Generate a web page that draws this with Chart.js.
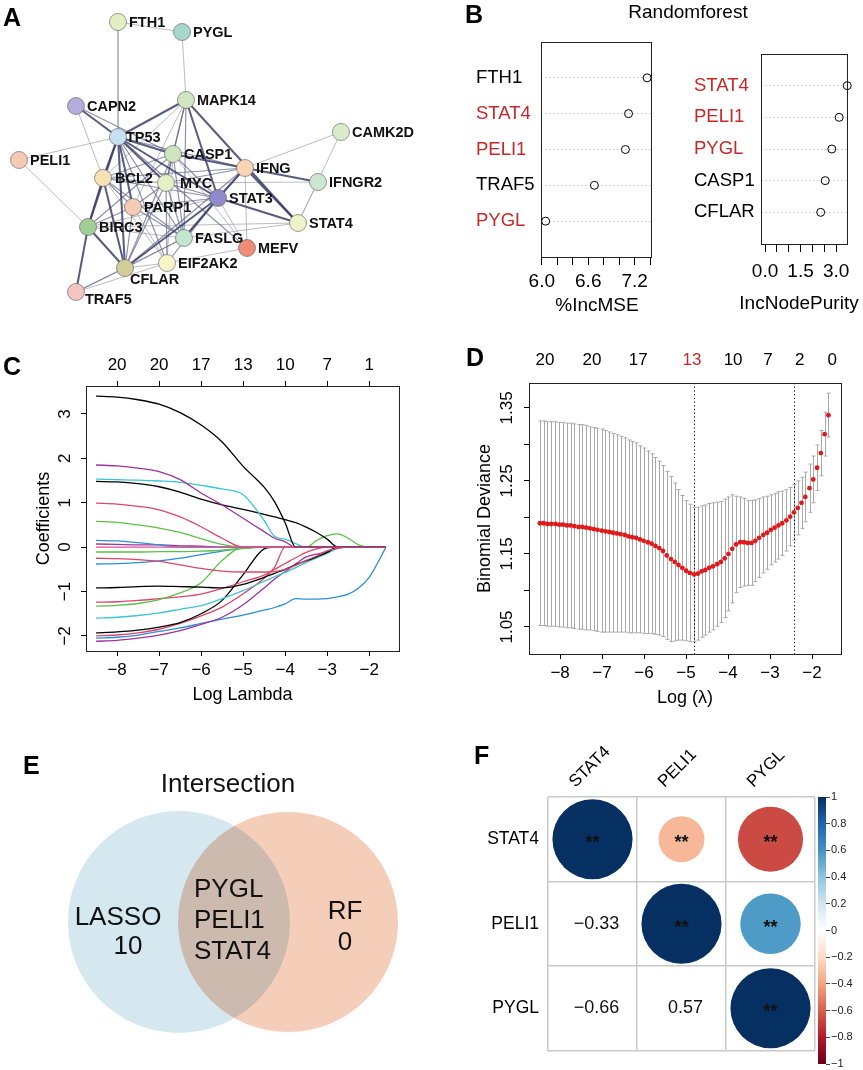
<!DOCTYPE html>
<html>
<head>
<meta charset="utf-8">
<script src="https://cdn.jsdelivr.net/npm/chart.js@4.4.1/dist/chart.umd.min.js"></script>
<style>
  html, body { margin: 0; padding: 0; background: #fff; }
  #fig { position: relative; width: 863px; height: 1070px; overflow: hidden; font-family: "Liberation Sans", Arial, sans-serif; color: #000; }
  #fig canvas { position: absolute; }
  .tag { position: absolute; font-weight: bold; font-size: 25px; line-height: 25px; }
  .txt { position: absolute; white-space: nowrap; text-align: center; font-size: 19px; line-height: 22px; }
</style>
</head>
<body>
<div id="fig">
  <canvas id="net" width="440" height="310" style="left:0;top:0"></canvas>
  <canvas id="rfMse" width="225" height="320" style="left:440px;top:0"></canvas>
  <canvas id="rfPurity" width="198" height="320" style="left:665px;top:0"></canvas>
  <canvas id="coef" width="430" height="380" style="left:0;top:340px"></canvas>
  <canvas id="cv" width="433" height="380" style="left:430px;top:340px"></canvas>
  <canvas id="venn" width="440" height="330" style="left:0;top:740px"></canvas>
  <canvas id="corr" width="423" height="330" style="left:440px;top:740px"></canvas>
  <canvas id="corrBar" width="58" height="300" style="left:805px;top:780px"></canvas>

  <div class="tag" style="left:3px;top:5px">A</div>
  <div class="tag" style="left:465px;top:2px">B</div>
  <div class="tag" style="left:3px;top:354px">C</div>
  <div class="tag" style="left:466px;top:345px">D</div>
  <div class="tag" style="left:23px;top:753px">E</div>
  <div class="tag" style="left:474px;top:743px">F</div>
  <div class="txt" style="left:588px;top:1px;width:200px">Randomforest</div>
  <div class="txt" style="left:537px;top:294px;width:120px">%IncMSE</div>
  <div class="txt" style="left:729px;top:292px;width:140px">IncNodePurity</div>
</div>

<script>
// ---- A: PPI network ----
const netGenes = ['FTH1','PYGL','CAPN2','MAPK14','TP53','CAMK2D','PELI1','CASP1','IFNG','IFNGR2','BCL2',
  'MYC','STAT3','PARP1','STAT4','BIRC3','FASLG','MEFV','EIF2AK2','CFLAR','TRAF5'];
const netX = [118,182,76,186,118,341,19,173,245,318,103,166,218,133,298,88,184,247,167,125,76];
const netY = [22,32,106,100,137,132,160,154,168,182,178,183,198,207,223,227,238,248,263,268,292];
const netColors = ['#e3efc2','#a9d6cc','#b6acdc','#cfe6bf','#c5e0f3','#d9ebc8','#f6c9b7','#cde6c0','#f9d4b6',
  '#cbe7d0','#f7e1b5','#e4efc4','#9189cc','#f5cbb5','#eef3c8','#a2cf95','#c3e6cf','#ef8d76','#f7f4c8','#d2cd99','#f5c3c2'];
// edge: [from, to, strength d/m/l]
const netEdges = [
  ['FTH1','PYGL','l'],['FTH1','TP53','l'],['PYGL','MAPK14','l'],['CAPN2','TP53','d'],['CAPN2','CASP1','m'],
  ['CAPN2','BCL2','l'],['PELI1','TP53','l'],['PELI1','BIRC3','l'],['MAPK14','TP53','d'],['MAPK14','CASP1','m'],
  ['MAPK14','MYC','m'],['MAPK14','BCL2','l'],['MAPK14','STAT3','d'],['MAPK14','STAT4','d'],['MAPK14','FASLG','m'],
  ['MAPK14','PARP1','l'],['TP53','CASP1','d'],['TP53','BCL2','d'],['TP53','MYC','d'],['TP53','STAT3','d'],
  ['TP53','BIRC3','d'],['TP53','CFLAR','d'],['TP53','PARP1','d'],['TP53','FASLG','m'],['TP53','IFNG','m'],
  ['TP53','MEFV','m'],['TP53','EIF2AK2','m'],['CASP1','IFNG','d'],['CASP1','MYC','m'],['CASP1','CFLAR','m'],
  ['CASP1','BIRC3','m'],['CASP1','BCL2','m'],['CASP1','STAT3','m'],['CASP1','MEFV','l'],['CASP1','FASLG','m'],
  ['CASP1','EIF2AK2','l'],['CAMK2D','IFNG','l'],['CAMK2D','STAT4','l'],['IFNG','IFNGR2','d'],['IFNG','STAT3','d'],
  ['IFNG','STAT4','d'],['IFNG','MEFV','l'],['IFNG','BCL2','m'],['IFNG','MYC','m'],['IFNG','FASLG','m'],
  ['IFNG','CFLAR','m'],['IFNGR2','STAT4','l'],['IFNGR2','MYC','l'],['BCL2','MYC','m'],['BCL2','STAT3','m'],
  ['BCL2','BIRC3','d'],['BCL2','CFLAR','d'],['BCL2','FASLG','m'],['BCL2','PARP1','m'],['BCL2','EIF2AK2','l'],
  ['MYC','STAT3','m'],['MYC','PARP1','m'],['MYC','FASLG','m'],['MYC','CFLAR','m'],['MYC','EIF2AK2','m'],
  ['STAT3','STAT4','d'],['STAT3','FASLG','d'],['STAT3','CFLAR','d'],['STAT3','BIRC3','l'],['STAT3','PARP1','m'],
  ['STAT3','EIF2AK2','m'],['STAT3','MEFV','l'],['PARP1','CFLAR','m'],['PARP1','BIRC3','m'],['PARP1','FASLG','m'],
  ['PARP1','EIF2AK2','l'],['BIRC3','CFLAR','d'],['BIRC3','TRAF5','d'],['BIRC3','FASLG','l'],['BIRC3','STAT4','l'],
  ['CFLAR','TRAF5','m'],['CFLAR','FASLG','m'],['CFLAR','EIF2AK2','l'],['TRAF5','EIF2AK2','l'],['TRAF5','FASLG','l'],
  ['MEFV','EIF2AK2','l'],['FASLG','STAT4','l']
];

// ---- B: random forest importance ----
const rfMseGenes = ['FTH1','STAT4','PELI1','TRAF5','PYGL'];
const rfMseValues = [7.36, 7.12, 7.08, 6.68, 6.05];
const rfMseTicks = [6.0, 6.2, 6.4, 6.6, 6.8, 7.0, 7.2, 7.4];
const rfMseTickLabels = ['6.0','','','6.6','','','7.2',''];
const rfPurityGenes = ['STAT4','PELI1','PYGL','CASP1','CFLAR'];
const rfPurityValues = [3.47, 3.13, 2.82, 2.54, 2.35];
const rfPurityTicks = [0, 0.5, 1, 1.5, 2, 2.5, 3];
const rfPurityTickLabels = ['0.0','','','1.5','','','3.0'];
const hubGenes = ['STAT4','PELI1','PYGL'];

// ---- C: LASSO coefficient paths ----
const lassoLogLambda = [-8.5,-8,-7.5,-7,-6.5,-6,-5.5,-5,-4.5,-4.25,-4,-3.75,-3.5,-3.25,-3,-2.75,-2.5,-2.25,-2,-1.6];
const coefPaths = [
  [3.40,3.38,3.32,3.22,3.03,2.75,2.37,1.82,1.35,1.02,0.55,0,0,0,0,0,0,0,0,0],
  [1.85,1.83,1.78,1.70,1.52,1.22,0.95,0.65,0.35,0.20,0.12,0,0,0,0,0,0,0,0,0],
  [1.53,1.52,1.51,1.49,1.46,1.39,1.31,1.18,0.60,0.24,0.18,0.08,0,0,0,0,0,0,0,0],
  [1.48,1.47,1.43,1.36,1.24,1.08,0.95,0.85,0.74,0.68,0.62,0.55,0.45,0.33,0.18,0,0,0,0,0],
  [0.99,0.97,0.92,0.84,0.68,0.46,0.20,0,0,0,0,0,0,0,0,0,0,0,0,0],
  [0.58,0.56,0.50,0.43,0.33,0.19,0.06,0,0,0,0,0,0,0,0,0,0,0,0,0],
  [0.15,0.14,0.10,0.05,0,0,0,0,0,0,0,0,0,0,0,0,0,0,0,0],
  [0.07,0.06,0.05,0.05,0.03,0.02,0,0,0,0,0,0,0,0,0,0,0,0,0,0],
  [-0.11,-0.11,-0.11,-0.10,-0.10,-0.09,-0.07,-0.03,0,0,0,0,0,0.15,0.26,0.30,0.20,0.05,0,0],
  [-0.25,-0.26,-0.28,-0.32,-0.40,-0.48,-0.54,-0.56,-0.56,-0.55,-0.50,-0.41,-0.30,-0.20,-0.08,-0.03,0,0,0,0],
  [-0.38,-0.37,-0.35,-0.31,-0.25,-0.17,-0.09,-0.03,0,0,0,0,0,0,0,0,0,0,0,0],
  [-0.92,-0.91,-0.89,-0.88,-0.89,-0.90,-0.92,-0.84,-0.68,-0.59,-0.50,-0.40,-0.31,-0.22,-0.12,0,0,0,0,0],
  [-1.33,-1.31,-1.27,-1.18,-1.03,-0.80,-0.30,0,0,0,0,0,0,0,0,0,0,0,0,0],
  [-1.24,-1.23,-1.20,-1.16,-1.12,-1.06,-0.93,-0.78,-0.63,-0.50,-0.37,-0.24,-0.12,-0.04,0,0,0,0,0,0],
  [-1.60,-1.58,-1.54,-1.48,-1.40,-1.32,-1.16,-0.98,-0.77,-0.67,-0.57,-0.46,-0.35,-0.24,-0.14,-0.03,0,0,0,0],
  [-1.93,-1.91,-1.87,-1.80,-1.70,-1.50,-1.20,-0.62,-0.04,0,0,0,0,0,0,0,0,0,0,0],
  [-2.00,-1.98,-1.93,-1.85,-1.72,-1.55,-1.35,-1.05,-0.70,-0.45,0,0,0,0,0,0,0,0,0,0],
  [-2.12,-2.10,-2.05,-1.98,-1.88,-1.74,-1.58,-1.30,-0.92,-0.72,-0.55,-0.38,-0.22,-0.16,-0.10,0,0,0,0,0],
  [-2.05,-2.03,-1.98,-1.90,-1.82,-1.72,-1.62,-1.53,-1.42,-1.36,-1.28,-1.16,-1.17,-1.17,-1.16,-1.12,-1.06,-0.92,-0.68,0],
  [0,0,0,0,0,0,0,0,0,0,0,0,0,0,0,0,0,0,0,0]
];
const pathColors = ['#000000','#a0329e','#3cc6d4','#000000','#d9476a','#5cbf4a','#2b8fd6','#a0329e','#5cbf4a','#d9476a',
  '#2b8fd6','#000000','#5cbf4a','#d9476a','#3cc6d4','#000000','#d9476a','#a0329e','#2b8fd6','#e0508f'];
const coefTicksX = [-8,-7,-6,-5,-4,-3,-2];
const coefTopLabels = ['20','20','17','13','10','7','1'];
const coefTicksY = [-2,-1,0,1,2,3];

// ---- D: cross-validation ----
const cvLogLambda = [-8.48,-8.39,-8.30,-8.21,-8.11,-8.02,-7.93,-7.84,-7.75,-7.66,
  -7.56,-7.47,-7.38,-7.29,-7.20,-7.11,-7.01,-6.92,-6.83,-6.74,
  -6.65,-6.56,-6.46,-6.37,-6.28,-6.19,-6.10,-6.01,-5.91,-5.82,
  -5.73,-5.64,-5.55,-5.46,-5.36,-5.27,-5.18,-5.09,-5.00,-4.91,
  -4.81,-4.72,-4.63,-4.54,-4.45,-4.36,-4.26,-4.17,-4.08,-3.99,
  -3.90,-3.81,-3.71,-3.62,-3.53,-3.44,-3.35,-3.26,-3.16,-3.07,
  -2.98,-2.89,-2.80,-2.71,-2.61,-2.52,-2.43,-2.34,-2.25,-2.16,
  -2.06,-1.97,-1.88,-1.79,-1.70,-1.61];
const cvMean = [1.192,1.192,1.191,1.191,1.191,1.190,1.190,1.189,1.189,1.188,
  1.187,1.187,1.186,1.185,1.184,1.183,1.182,1.181,1.180,1.179,
  1.178,1.177,1.176,1.174,1.173,1.172,1.170,1.168,1.166,1.164,
  1.161,1.158,1.154,1.148,1.143,1.139,1.135,1.131,1.127,1.124,
  1.122,1.123,1.126,1.128,1.131,1.133,1.136,1.139,1.144,1.150,
  1.157,1.163,1.166,1.166,1.165,1.165,1.168,1.172,1.176,1.179,
  1.183,1.186,1.189,1.192,1.196,1.201,1.207,1.213,1.220,1.228,
  1.240,1.252,1.268,1.288,1.314,1.340];
const cvSd = [0.140,0.140,0.140,0.140,0.140,0.140,0.140,0.140,0.140,0.140,
  0.140,0.140,0.140,0.139,0.139,0.139,0.139,0.138,0.137,0.136,
  0.135,0.134,0.133,0.132,0.131,0.130,0.128,0.127,0.125,0.123,
  0.121,0.119,0.117,0.115,0.113,0.108,0.103,0.099,0.096,0.094,
  0.092,0.091,0.090,0.089,0.088,0.087,0.085,0.083,0.081,0.078,
  0.074,0.066,0.062,0.060,0.058,0.058,0.056,0.054,0.052,0.050,
  0.048,0.047,0.046,0.044,0.042,0.040,0.038,0.037,0.035,0.034,
  0.033,0.032,0.031,0.031,0.030,0.030];
const cvLambdaMin = -4.81;
const cvLambda1se = -2.43;
const cvTicksX = [-8,-7,-6,-5,-4,-3,-2];
const cvTopAt = [-8.36,-7.24,-6.14,-4.86,-3.88,-3.05,-2.29,-1.52];
const cvTopLabels = ['20','20','17','13','10','7','2','0'];
const cvTicksY = [1.05,1.10,1.15,1.20,1.25,1.30,1.35];
const cvTickLabelsY = ['1.05','','1.15','','1.25','','1.35'];

// ---- E: Venn ----
const vennSets = ['LASSO','RF'];
const vennOnly = [10, 0];
const vennShared = ['PYGL','PELI1','STAT4'];

// ---- F: correlation ----
const corrGenes = ['STAT4','PELI1','PYGL'];
const corrMatrix = [[1,-0.33,-0.66],[-0.33,1,0.57],[-0.66,0.57,1]];
const corrStars = [['**','**','**'],['**','**','**'],['**','**','**']];
const colorbarTicks = [-1,-0.8,-0.6,-0.4,-0.2,0,0.2,0.4,0.6,0.8,1];
const rdbuStops = ['#67001F','#B2182B','#D6604D','#F4A582','#FDDBC7','#FFFFFF','#D1E5F0','#92C5DE','#4393C3','#2166AC','#053061'];

// ---------------------------------------------------------------
const FONT = '"Liberation Sans", Arial, sans-serif';
const RED = '#c62828';
Chart.defaults.font.family = FONT;
Chart.defaults.color = '#000';
Chart.defaults.animation = false;
Chart.defaults.responsive = false;
Chart.defaults.events = [];
Chart.defaults.layout.autoPadding = false;
Chart.defaults.plugins.legend.display = false;
Chart.defaults.plugins.tooltip.enabled = false;

const neg = s => String(s).replace('-', '\u2212');
const setTicks = vals => s => { s.ticks = vals.map(value => ({ value })); };
const fixSize = px => s => { if (s.isHorizontal()) s.height = px; else s.width = px; };
const noGrid = { display: false, drawTicks: false };

function rdbu(v) {
  const t = (v + 1) / 2 * (rdbuStops.length - 1);
  const i = Math.min(Math.floor(t), rdbuStops.length - 2);
  const f = t - i;
  const a = rdbuStops[i], b = rdbuStops[i + 1];
  const c = k => Math.round(parseInt(a.substr(k, 2), 16) * (1 - f) + parseInt(b.substr(k, 2), 16) * f);
  return `rgb(${c(1)},${c(3)},${c(5)})`;
}

// frame round the plot region, like base R box()
const boxPlugin = {
  id: 'box',
  afterDraw(chart) {
    const { ctx, chartArea: a } = chart;
    ctx.save();
    ctx.strokeStyle = '#222';
    ctx.lineWidth = 1;
    ctx.strokeRect(Math.round(a.left) + 0.5, Math.round(a.top) + 0.5, Math.round(a.right - a.left), Math.round(a.bottom - a.top));
    ctx.restore();
  }
};

// ---- A ----
const nodeAt = g => ({ x: netX[netGenes.indexOf(g)], y: netY[netGenes.indexOf(g)] });
const edgeStyle = { d: { color: 'rgba(60,64,104,0.85)', width: 2 }, m: { color: 'rgba(95,99,135,0.7)', width: 1.2 }, l: { color: 'rgba(170,170,180,0.8)', width: 1 } };
const labelShift = { TRAF5: [9, 8], CFLAR: [5, 12], TP53: [8, 1], MYC: [14, 1], BCL2: [12, 1] };

const nodeLabels = {
  id: 'nodeLabels',
  afterDatasetsDraw(chart) {
    const { ctx } = chart;
    const pts = chart.getDatasetMeta(0).data;
    ctx.save();
    ctx.font = 'bold 14.5px ' + FONT;
    ctx.fillStyle = '#111';
    ctx.textBaseline = 'middle';
    pts.forEach((p, i) => {
      const off = labelShift[netGenes[i]] || [11, 1];
      ctx.fillText(netGenes[i], p.x + off[0], p.y + off[1]);
    });
    ctx.restore();
  }
};

new Chart('net', {
  type: 'scatter',
  data: {
    datasets: [{
      data: netGenes.map(nodeAt),
      pointRadius: 8.5,
      pointBackgroundColor: netColors,
      pointBorderColor: 'rgba(90,90,90,0.6)',
      pointBorderWidth: 1,
      clip: false,
      order: 0
    }].concat(netEdges.map(([a, b, w]) => ({
      type: 'line',
      data: [nodeAt(a), nodeAt(b)],
      borderColor: edgeStyle[w].color,
      borderWidth: edgeStyle[w].width,
      pointRadius: 0,
      order: w === 'l' ? 3 : (w === 'm' ? 2 : 1)
    })))
  },
  options: {
    layout: { padding: 0 },
    scales: {
      x: { display: false, min: 0, max: 440 },
      y: { display: false, min: 0, max: 310, reverse: true }
    }
  },
  plugins: [nodeLabels]
});

// ---- B ----
function dotChart(id, genes, values, ticks, tickLabels, xmin, xmax, lay) {
  return new Chart(id, {
    type: 'scatter',
    data: {
      datasets: [{
        data: values.map((v, i) => ({ x: v, y: genes.length - i })),
        pointRadius: 4,
        pointBackgroundColor: 'rgba(255,255,255,0)',
        pointBorderColor: '#000',
        pointBorderWidth: 1,
        clip: false
      }]
    },
    options: {
      layout: { padding: { left: lay.left, right: lay.right, top: lay.top, bottom: 0 } },
      scales: {
        x: {
          type: 'linear', min: xmin, max: xmax,
          afterBuildTicks: setTicks(ticks),
          afterFit: fixSize(lay.bottom),
          grid: { drawOnChartArea: false, tickLength: 8, tickColor: '#000', color: '#000' },
          border: { display: false },
          ticks: { font: { size: 19 }, padding: lay.tickPad, maxRotation: 0, autoSkip: false, callback: (v, i) => tickLabels[i] }
        },
        y: {
          type: 'linear', min: 0, max: 6,
          afterBuildTicks: setTicks([1, 2, 3, 4, 5]),
          afterFit: fixSize(lay.axisW),
          grid: { color: '#c4c4c4', lineWidth: 1, drawTicks: false },
          border: { display: false, dash: [1.5, 2.5] },
          ticks: {
            crossAlign: 'far', padding: 0, font: { size: 18.5 }, autoSkip: false,
            callback: v => genes[genes.length - v],
            color: c => hubGenes.includes(genes[genes.length - c.tick.value]) ? RED : '#000'
          }
        }
      }
    },
    plugins: [boxPlugin]
  });
}
dotChart('rfMse', rfMseGenes, rfMseValues, rfMseTicks, rfMseTickLabels, 5.99, 7.41,
  { left: 36, right: 14, top: 42, bottom: 63, axisW: 65, tickPad: 5.6 });
dotChart('rfPurity', rfPurityGenes, rfPurityValues, rfPurityTicks, rfPurityTickLabels, -0.17, 3.46,
  { left: 29, right: 16, top: 54, bottom: 76, axisW: 67, tickPad: 8.6 });

// ---- C ----
new Chart('coef', {
  type: 'line',
  data: {
    datasets: coefPaths.map((ys, k) => ({
      data: ys.map((y, j) => ({ x: lassoLogLambda[j], y })),
      borderColor: pathColors[k],
      borderWidth: 1.3,
      pointRadius: 0,
      cubicInterpolationMode: 'monotone',
      order: k === coefPaths.length - 1 ? 0 : 1
    }))
  },
  options: {
    layout: { padding: { left: 0, right: 31, top: 0, bottom: 0 } },
    scales: {
      x: {
        type: 'linear', position: 'bottom', min: -8.74, max: -1.29,
        afterBuildTicks: setTicks(coefTicksX), afterFit: fixSize(69),
        grid: { drawOnChartArea: false, tickLength: 5, tickColor: '#000' },
        border: { display: false },
        ticks: { font: { size: 17 }, padding: 3.8, maxRotation: 0, autoSkip: false, callback: v => neg(v) },
        title: { display: true, text: 'Log Lambda', font: { size: 18 }, padding: { top: 0, bottom: 14 } }
      },
      xTop: {
        type: 'linear', position: 'top', min: -8.74, max: -1.29,
        afterBuildTicks: setTicks(coefTicksX), afterFit: fixSize(46),
        grid: { drawOnChartArea: false, tickLength: 5, tickColor: '#000' },
        border: { display: false },
        ticks: { font: { size: 17 }, padding: 5.8, maxRotation: 0, autoSkip: false, callback: (v, i) => coefTopLabels[i] }
      },
      y: {
        type: 'linear', min: -2.34, max: 3.63,
        afterBuildTicks: setTicks(coefTicksY), afterFit: fixSize(86),
        grid: { drawOnChartArea: false, tickLength: 5, tickColor: '#000' },
        border: { display: false },
        ticks: { font: { size: 17 }, minRotation: 90, maxRotation: 90, crossAlign: 'center', padding: 6, autoSkip: false, callback: v => neg(v) },
        title: { display: true, text: 'Coefficients', font: { size: 18 }, padding: { top: 33, bottom: 0 } }
      }
    }
  },
  plugins: [boxPlugin]
});

// ---- D ----
const cvBars = {
  id: 'cvBars',
  beforeDatasetsDraw(chart) {
    const { ctx, chartArea: a, scales: { x, y } } = chart;
    ctx.save();
    ctx.strokeStyle = '#a9a9a9';
    ctx.lineWidth = 1;
    cvLogLambda.forEach((l, i) => {
      const px = Math.round(x.getPixelForValue(l)) + 0.5;
      const hi = y.getPixelForValue(cvMean[i] + cvSd[i]);
      const lo = y.getPixelForValue(cvMean[i] - cvSd[i]);
      ctx.beginPath();
      ctx.moveTo(px, hi); ctx.lineTo(px, lo);
      ctx.moveTo(px - 2, hi); ctx.lineTo(px + 2, hi);
      ctx.moveTo(px - 2, lo); ctx.lineTo(px + 2, lo);
      ctx.stroke();
    });
    ctx.strokeStyle = '#000';
    ctx.setLineDash([1.2, 2.5]);
    [cvLambdaMin, cvLambda1se].forEach(l => {
      const px = Math.round(x.getPixelForValue(l)) + 0.5;
      ctx.beginPath();
      ctx.moveTo(px, a.top); ctx.lineTo(px, a.bottom);
      ctx.stroke();
    });
    ctx.restore();
  }
};

new Chart('cv', {
  type: 'scatter',
  data: {
    datasets: [{
      data: cvLogLambda.map((l, i) => ({ x: l, y: cvMean[i] })),
      pointRadius: 2.4,
      pointBackgroundColor: '#e0191b',
      pointBorderWidth: 0,
      clip: false
    }]
  },
  options: {
    layout: { padding: { left: 0, right: 22, top: 0, bottom: 0 } },
    scales: {
      x: {
        type: 'linear', position: 'bottom', min: -8.74, max: -1.31,
        afterBuildTicks: setTicks(cvTicksX), afterFit: fixSize(66),
        grid: { drawOnChartArea: false, tickLength: 5, tickColor: '#000' },
        border: { display: false },
        ticks: { font: { size: 17 }, padding: 3.8, maxRotation: 0, autoSkip: false, callback: v => neg(v) },
        title: { display: true, text: 'Log (\u03bb)', font: { size: 18 }, padding: { top: 0, bottom: 11 } }
      },
      xTop: {
        type: 'linear', position: 'top', min: -8.74, max: -1.31,
        afterBuildTicks: setTicks(cvTopAt), afterFit: fixSize(43),
        grid: noGrid,
        border: { display: false },
        ticks: { font: { size: 17 }, padding: 12.8, maxRotation: 0, autoSkip: false,
          callback: (v, i) => cvTopLabels[i], color: c => c.index === 3 ? RED : '#000' }
      },
      y: {
        type: 'linear', min: 1.013, max: 1.384,
        afterBuildTicks: setTicks(cvTicksY), afterFit: fixSize(99),
        grid: { drawOnChartArea: false, tickLength: 5, tickColor: '#000' },
        border: { display: false },
        ticks: { font: { size: 17 }, minRotation: 90, maxRotation: 90, crossAlign: 'center', padding: 0, autoSkip: false,
          callback: (v, i) => cvTickLabelsY[i] },
        title: { display: true, text: 'Binomial Deviance', font: { size: 18 }, padding: { top: 44, bottom: 0 } }
      }
    }
  },
  plugins: [cvBars, boxPlugin]
});

// ---- E ----
const vennLayout = { left: { x: 179, y: 182, r: 111, color: '#d5e7ef' }, right: { x: 288, y: 182, r: 110, color: '#f5ceba' } };
const multiply = {
  id: 'multiply',
  beforeDatasetsDraw(chart) { chart.ctx.save(); chart.ctx.globalCompositeOperation = 'multiply'; },
  afterDatasetsDraw(chart) { chart.ctx.restore(); }
};
const vennText = {
  id: 'vennText',
  afterDraw(chart) {
    const { ctx, scales: { x, y } } = chart;
    const put = (t, px, py, align) => { ctx.textAlign = align || 'center'; ctx.fillText(t, x.getPixelForValue(px), y.getPixelForValue(py)); };
    ctx.save();
    ctx.fillStyle = '#111';
    ctx.textBaseline = 'middle';
    ctx.font = '26px ' + FONT;
    put('Intersection', 228, 45);
    put(vennSets[0], 118, 178);
    put(String(vennOnly[0]), 128, 207);
    put(vennSets[1], 345, 172);
    put(String(vennOnly[1]), 345, 203);
    vennShared.forEach((g, i) => put(g, 194, 150 + 31 * i, 'left'));
    ctx.restore();
  }
};
new Chart('venn', {
  type: 'scatter',
  data: {
    datasets: ['left', 'right'].map(k => ({
      data: [{ x: vennLayout[k].x, y: vennLayout[k].y }],
      pointRadius: vennLayout[k].r,
      pointBackgroundColor: vennLayout[k].color,
      pointBorderWidth: 0,
      clip: false
    }))
  },
  options: {
    layout: { padding: 0 },
    scales: {
      x: { display: false, min: 0, max: 440 },
      y: { display: false, min: 0, max: 330, reverse: true }
    }
  },
  plugins: [multiply, vennText]
});

// ---- F ----
const corrCells = [];
corrMatrix.forEach((row, i) => row.forEach((v, j) => { if (j >= i) corrCells.push({ x: j, y: i, v }); }));

const corrText = {
  id: 'corrText',
  afterDatasetsDraw(chart) {
    const { ctx, scales: { x, y } } = chart;
    ctx.save();
    ctx.textAlign = 'center';
    ctx.textBaseline = 'middle';
    ctx.fillStyle = '#111';
    corrMatrix.forEach((row, i) => row.forEach((v, j) => {
      const px = x.getPixelForValue(j), py = y.getPixelForValue(i);
      if (j >= i) {
        ctx.font = 'bold 18px ' + FONT;
        ctx.fillText(corrStars[i][j], px, py + 4);
      } else {
        ctx.font = '18px ' + FONT;
        ctx.fillText(neg(v.toFixed(2)), px + 4, py);
      }
    }));
    ctx.restore();
  }
};

const cellGrid = { color: '#c9c9c9', lineWidth: 1.5, drawTicks: false };
new Chart('corr', {
  type: 'scatter',
  data: {
    datasets: [{
      data: corrCells,
      pointRadius: c => {
        if (!c.raw) return 0;
        const s = c.chart.scales.x;
        const cell = Math.abs(s.getPixelForValue(1) - s.getPixelForValue(0));
        return 0.45 * cell * Math.sqrt(Math.abs(c.raw.v));
      },
      pointBackgroundColor: c => c.raw ? rdbu(c.raw.v) : '#000',
      pointBorderWidth: 0,
      clip: false
    }]
  },
  options: {
    layout: { padding: { left: 0, right: 48, top: 0, bottom: 6 } },
    scales: {
      x: {
        type: 'linear', position: 'top', min: -0.5, max: 2.5,
        afterBuildTicks: setTicks([0, 1, 2]), afterFit: fixSize(57),
        grid: noGrid, border: { display: false },
        ticks: { font: { size: 17 }, minRotation: 45, maxRotation: 45, labelOffset: -6, padding: 5, autoSkip: false,
          callback: (v, i) => corrGenes[i] }
      },
      xg: {
        type: 'linear', position: 'bottom', min: -0.5, max: 2.5,
        afterBuildTicks: setTicks([-0.5, 0.5, 1.5, 2.5]), afterFit: fixSize(0),
        grid: cellGrid, border: { display: false }, ticks: { display: false }
      },
      y: {
        type: 'linear', position: 'left', reverse: true, min: -0.5, max: 2.5,
        afterBuildTicks: setTicks([0, 1, 2]), afterFit: fixSize(108),
        grid: noGrid, border: { display: false },
        ticks: { font: { size: 17.5 }, padding: 9, autoSkip: false, callback: (v, i) => corrGenes[i] }
      },
      yg: {
        type: 'linear', position: 'right', reverse: true, min: -0.5, max: 2.5,
        afterBuildTicks: setTicks([-0.5, 0.5, 1.5, 2.5]), afterFit: fixSize(0),
        grid: cellGrid, border: { display: false }, ticks: { display: false }
      }
    }
  },
  plugins: [corrText]
});

// colour key
new Chart('corrBar', {
  type: 'bar',
  data: {
    labels: [''],
    datasets: [{
      data: [[colorbarTicks[0], colorbarTicks[colorbarTicks.length - 1]]],
      barPercentage: 1,
      categoryPercentage: 1,
      borderWidth: 0,
      backgroundColor: c => {
        const { chart } = c;
        if (!chart.chartArea) return '#888';
        const y = chart.scales.y;
        const g = chart.ctx.createLinearGradient(0, y.getPixelForValue(-1), 0, y.getPixelForValue(1));
        rdbuStops.forEach((col, i) => g.addColorStop(i / (rdbuStops.length - 1), col));
        return g;
      }
    }]
  },
  options: {
    layout: { padding: { left: 13, right: 0, top: 17, bottom: 16 } },
    scales: {
      x: { display: false },
      y: {
        type: 'linear', position: 'right', min: -1, max: 1,
        afterBuildTicks: setTicks(colorbarTicks), afterFit: fixSize(37),
        grid: { drawOnChartArea: false, tickLength: 4, tickColor: '#444' },
        border: { display: false },
        ticks: { font: { size: 11 }, padding: 1, color: '#222', autoSkip: false,
          callback: (v, i) => neg(String(colorbarTicks[i])) }
      }
    }
  }
});
</script>
</body>
</html>
